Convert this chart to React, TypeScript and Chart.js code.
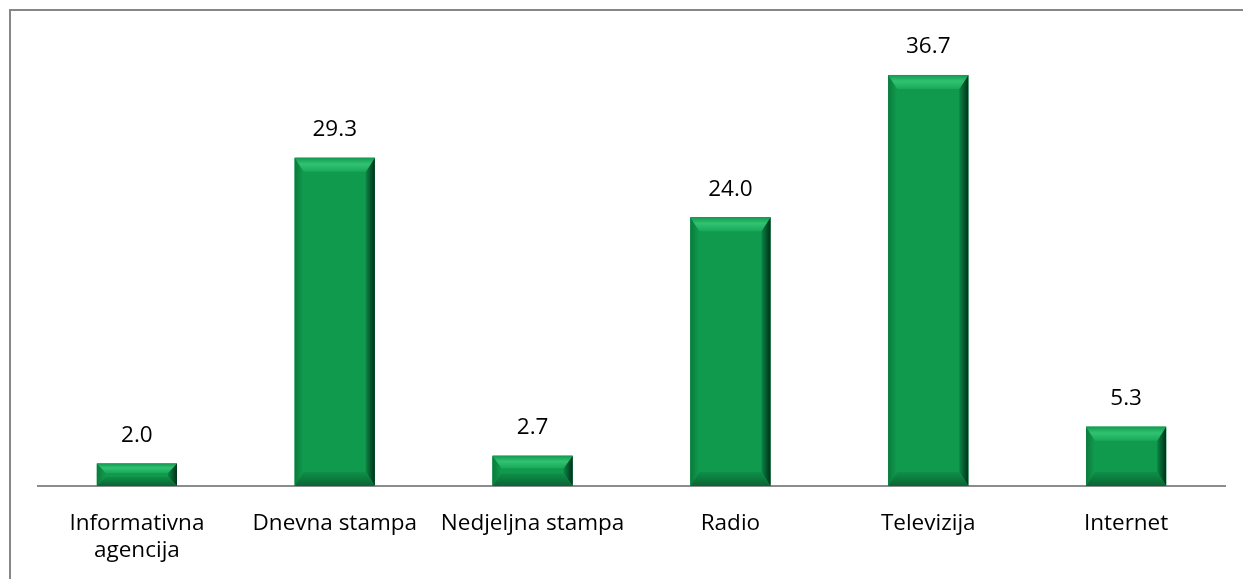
import React, { useEffect, useRef } from "react";
import { Chart, registerables } from "chart.js";

Chart.register(...registerables);

const categories: (string | string[])[] = [
  ["Informativna", "agencija"],
  "Dnevna stampa",
  "Nedjeljna stampa",
  "Radio",
  "Televizija",
  "Internet",
];
const values: number[] = [2.0, 29.3, 2.7, 24.0, 36.7, 5.3];
const yMin = 0;
const yMax = 40;

const FONT = "'Open Sans'";
const FONT_SIZE = 22.5;

const framePlugin = {
  id: "frame",
  beforeDraw(chart: any) {
    const ctx = chart.ctx;
    ctx.save();
    ctx.strokeStyle = "#878787";
    ctx.lineWidth = 2;
    ctx.beginPath();
    ctx.moveTo(10, 579);
    ctx.lineTo(10, 10);
    ctx.lineTo(1243, 10);
    ctx.stroke();
    ctx.restore();
  },
};

const bevelPlugin = {
  id: "bevel",
  afterDatasetsDraw(chart: any) {
    const ctx = chart.ctx;
    const meta = chart.getDatasetMeta(0);
    ctx.save();
    meta.data.forEach((bar: any, i: number) => {
      const l = bar.x - bar.width / 2;
      const r = bar.x + bar.width / 2;
      const t = bar.y;
      const b = bar.base;
      const h = b - t;
      const bv = Math.min(14, h / 2.4);
      const bs = Math.min(9, h / 2.4);
      ctx.fillStyle = "#0f9a4d";
      ctx.fillRect(l, t, r - l, h);
      let g = ctx.createLinearGradient(l, 0, l + bs, 0);
      g.addColorStop(0, "#0b7a3c");
      g.addColorStop(1, "#109c4e");
      ctx.fillStyle = g;
      ctx.beginPath();
      ctx.moveTo(l, t);
      ctx.lineTo(l + bs, t + bv);
      ctx.lineTo(l + bs, b - bv);
      ctx.lineTo(l, b);
      ctx.closePath();
      ctx.fill();
      g = ctx.createLinearGradient(r - bs, 0, r, 0);
      g.addColorStop(0, "#0c8543");
      g.addColorStop(1, "#00301a");
      ctx.fillStyle = g;
      ctx.beginPath();
      ctx.moveTo(r, t);
      ctx.lineTo(r - bs, t + bv);
      ctx.lineTo(r - bs, b - bv);
      ctx.lineTo(r, b);
      ctx.closePath();
      ctx.fill();
      g = ctx.createLinearGradient(0, b - bv, 0, b);
      g.addColorStop(0, "#0e8f48");
      g.addColorStop(1, "#0a6533");
      ctx.fillStyle = g;
      ctx.beginPath();
      ctx.moveTo(l, b);
      ctx.lineTo(l + bs, b - bv);
      ctx.lineTo(r - bs, b - bv);
      ctx.lineTo(r, b);
      ctx.closePath();
      ctx.fill();
      g = ctx.createLinearGradient(0, t, 0, t + bv);
      g.addColorStop(0, "#129a50");
      g.addColorStop(0.45, "#30c271");
      g.addColorStop(1, "#1aa85a");
      ctx.fillStyle = g;
      ctx.beginPath();
      ctx.moveTo(l, t);
      ctx.lineTo(r, t);
      ctx.lineTo(r - bs, t + bv);
      ctx.lineTo(l + bs, t + bv);
      ctx.closePath();
      ctx.fill();
      ctx.fillStyle = "#000";
      ctx.font = `${FONT_SIZE}px ${FONT}`;
      ctx.textAlign = "center";
      ctx.textBaseline = "middle";
      ctx.fillText(values[i].toFixed(1), bar.x, t - 28);
    });
    ctx.restore();
  },
};

export default function App() {
  const ref = useRef<HTMLCanvasElement>(null);
  useEffect(() => {
    const chart = new Chart(ref.current!, {
      type: "bar",
      data: {
        labels: categories as any,
        datasets: [
          {
            data: values,
            backgroundColor: "#0f9a4d",
            borderWidth: 0,
            categoryPercentage: 1,
            barPercentage: 0.405,
          },
        ],
      },
      options: {
        responsive: false,
        animation: false,
        layout: { padding: { left: 38, right: 18, top: 38, bottom: 0 } },
        plugins: { legend: { display: false }, tooltip: { enabled: false } },
        scales: {
          x: {
            grid: { display: false },
            border: { display: true, color: "#8c8c8c", width: 2 },
            ticks: {
              color: "#000",
              font: { family: FONT, size: FONT_SIZE, lineHeight: 1.2 },
              maxRotation: 0,
              autoSkip: false,
              padding: 16,
            },
            afterFit(scale: any) {
              scale.height = 93;
            },
          },
          y: { display: false, min: yMin, max: yMax },
        },
      },
      plugins: [framePlugin, bevelPlugin],
    });
    return () => chart.destroy();
  }, []);
  return (
    <div style={{ position: "fixed", left: 0, top: 0, width: 1243, height: 579, background: "#fff" }}>
      <canvas ref={ref} width={1243} height={579} />
    </div>
  );
}
